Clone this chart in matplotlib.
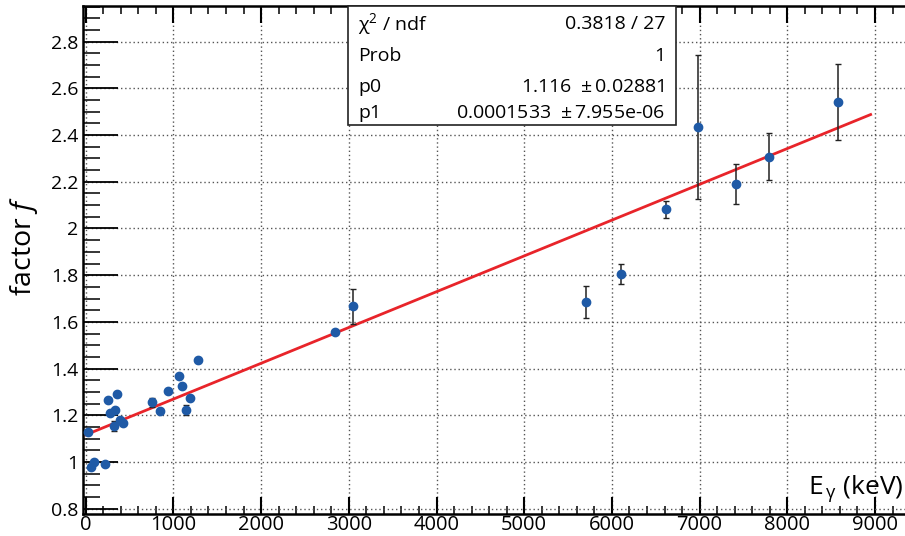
import matplotlib
matplotlib.use("Agg")
import matplotlib.pyplot as plt
import numpy as np
from matplotlib.ticker import MultipleLocator

plt.rcParams['font.family'] = ['Open Sans', 'DejaVu Sans']
plt.rcParams['mathtext.fontset'] = 'custom'
plt.rcParams['mathtext.rm'] = 'Open Sans'
plt.rcParams['mathtext.it'] = 'Open Sans:italic'

# data
energy = [30, 60, 98, 216, 254, 281, 334, 361, 326, 388, 422, 760, 847, 942,
          1064, 1094, 1144, 1189, 1277, 2843, 3044, 5708, 6104, 6617, 6982,
          7412, 7788, 8582]
factor = [1.127, 0.979, 0.999, 0.993, 1.264, 1.210, 1.223, 1.290, 1.154, 1.179,
          1.167, 1.255, 1.219, 1.302, 1.370, 1.324, 1.223, 1.275, 1.437, 1.556,
          1.667, 1.685, 1.806, 2.082, 2.436, 2.190, 2.308, 2.543]
factor_err = [0.004, 0.004, 0.004, 0.004, 0.004, 0.004, 0.004, 0.004, 0.022, 0.004,
              0.004, 0.018, 0.004, 0.004, 0.004, 0.004, 0.023, 0.004, 0.004, 0.006,
              0.075, 0.069, 0.043, 0.036, 0.309, 0.085, 0.100, 0.162]
p0 = 1.116
p1 = 0.0001533
fit_range = [0, 8950]
stats_labels = [r"$\mathrm{χ}^{2}$ / ndf", "Prob", "p0", "p1"]
stats_values = ["0.3818 / 27", "1", "1.116  $\\pm\\,$0.02881", "0.0001533  $\\pm\\,$7.955e-06"]

fig = plt.figure(figsize=(9.05, 5.36), dpi=100)
ax = fig.add_axes([83 / 905, 22 / 536, 827 / 905, 508 / 536])

ax.set_xlim(-31, 9399)
ax.set_ylim(0.777, 2.953)

ax.grid(True, which='major', linestyle=(0, (1, 2)), color='#555555', linewidth=1.0, zorder=0)

xf = np.array(fit_range, dtype=float)
ax.plot(xf, p0 + p1 * xf, color='#e8242a', linewidth=2.0, zorder=2)

ax.errorbar(energy, factor, yerr=factor_err, fmt='o', color='#1f5aa6',
            markersize=6, ecolor='#222222', elinewidth=1.1, capsize=2.5,
            capthick=1.0, zorder=3)

ax.xaxis.set_major_locator(MultipleLocator(1000))
ax.xaxis.set_minor_locator(MultipleLocator(200))
ax.yaxis.set_major_locator(MultipleLocator(0.2))
ax.yaxis.set_minor_locator(MultipleLocator(0.05))
ax.tick_params(axis='both', which='both', direction='in', top=True, right=False)
ax.tick_params(axis='y', which='major', length=25, width=1.3, labelsize=14)
ax.tick_params(axis='y', which='minor', length=12, width=1.1)
ax.tick_params(axis='x', which='major', length=12, width=1.5, labelsize=14.5, pad=1)
ax.tick_params(axis='x', which='minor', length=6, width=1.1)
ax.yaxis.set_major_formatter(plt.FuncFormatter(lambda v, p: f"{v:g}"))

for s in ax.spines.values():
    s.set_linewidth(1.8)

fig.text(0.026, 1 - 246 / 536, r"factor $\mathit{f}$", rotation=90, fontsize=20.5,
         ha='center', va='center')
fig.text(0.998, 1 - 494 / 536, r"E$_{\,\mathrm{γ}}$ (keV)", fontsize=19, ha='right', va='baseline')

# stats box
bx0, bx1 = 348 / 905, 676 / 905
by1, by0 = 1 - 6 / 536, 1 - 125 / 536
fig.patches.append(plt.Rectangle((bx0, by0), bx1 - bx0, by1 - by0,
                                 transform=fig.transFigure, facecolor='white',
                                 edgecolor='#222222', linewidth=1.2, zorder=5))
rows_y = [24, 56, 87, 113]
for lab, val, yy in zip(stats_labels, stats_values, rows_y):
    fig.text(358 / 905, 1 - yy / 536, lab, fontsize=14, ha='left', va='center', zorder=6)
    fig.text(665 / 905, 1 - yy / 536, val, fontsize=14, ha='right', va='center', zorder=6)

fig.savefig("out.png", dpi=100)
